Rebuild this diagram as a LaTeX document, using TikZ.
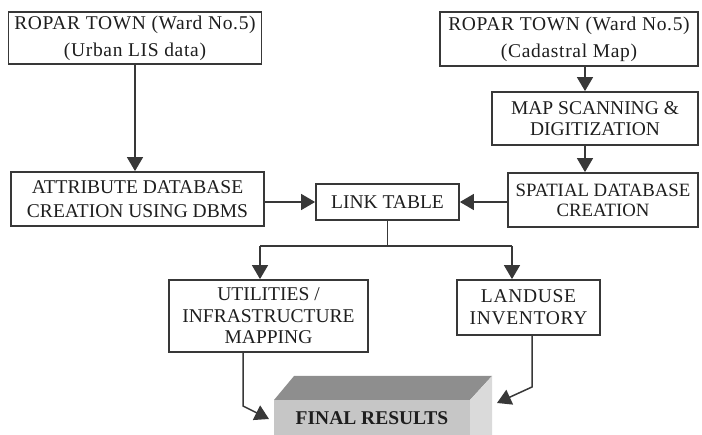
\documentclass[tikz,border=0pt]{standalone}
\usepackage{fontspec}
\setmainfont{Liberation Serif}
\usetikzlibrary{arrows.meta}
\definecolor{edge}{HTML}{383838}
\definecolor{ink}{HTML}{1E1E1E}
\definecolor{topface}{HTML}{8E8E8E}
\definecolor{frontface}{HTML}{C6C6C6}
\definecolor{sideface}{HTML}{DADADA}
\tikzset{
  box/.style={draw=edge, line width=1.8pt, rectangle, inner sep=0pt, align=center,
              text=ink, fill=white},
  lsp/.style={font=\fontsize{19.5}{#1}\selectfont},
  spaced/.style={font=\fontsize{19.5}{#1}\selectfont\addfontfeature{LetterSpace=3.5}},
  conn/.style={draw=edge, line width=1.5pt},
  arr/.style={conn, -{Triangle[length=14pt,width=16pt]}},
}
\begin{document}
\begin{tikzpicture}[x=1pt,y=-1pt]
\useasboundingbox (0,0) rectangle (702,435);

% process boxes
\node[box, spaced=27, minimum width=253pt, minimum height=52pt] (b1) at (135,38)
  {ROPAR TOWN (Ward No.5)\\(Urban LIS data)};
\node[box, spaced=27, minimum width=258pt, minimum height=54pt] (b2) at (569,39)
  {ROPAR TOWN (Ward No.5)\\(Cadastral Map)};
\node[box, lsp=21, minimum width=206pt, minimum height=53pt] (b3) at (595,118.5)
  {MAP SCANNING \&\\DIGITIZATION};
\node[box, lsp=24, minimum width=253pt, minimum height=54pt] (b4) at (137.5,199)
  {ATTRIBUTE DATABASE\\CREATION USING DBMS};
\node[box, lsp=21, minimum width=143pt, minimum height=36pt] (b5) at (387.5,202)
  {LINK TABLE};
\node[box, font=\fontsize{18.8}{20}\selectfont, minimum width=190pt, minimum height=54pt]
  (b6) at (603,200)
  {SPATIAL DATABASE\\CREATION};
\node[box, lsp=21.5, minimum width=199pt, minimum height=72pt] (b7) at (268.5,316)
  {UTILITIES /\\INFRASTRUCTURE\\MAPPING};
\node[box, spaced=22, minimum width=143pt, minimum height=55pt] (b8) at (528.5,307.5)
  {LANDUSE\\INVENTORY};

% raised result slab
\fill[topface] (274,400) -- (294,376) -- (492,376) -- (470,400) -- cycle;
\fill[sideface] (470,400) -- (492,376) -- (492,440) -- (470,440) -- cycle;
\node[fill=frontface, minimum width=196pt, minimum height=40pt, inner sep=0pt,
      text=ink, font=\fontsize{19.5}{22}\selectfont\bfseries] (fin) at (372,420)
  {\raisebox{3pt}{FINAL RESULTS}};

% guide coordinates
\coordinate (colx) at (585,0);
\coordinate (split) at (387.5,246);
\coordinate (dl) at (260,246);
\coordinate (dr) at (512,246);
\coordinate (bendL) at (243,406);
\coordinate (tipL) at (269,419);
\coordinate (bendR) at (532,387);
\coordinate (tipR) at (497,403);

% connectors
\draw[arr] (b1.south) -- (b1.south |- b4.north);
\draw[arr] (b2.south -| colx) -- (b3.north -| colx);
\draw[arr] (b3.south -| colx) -- (b6.north -| colx);
\draw[arr] (b4.east |- b5.west) -- (b5.west);
\draw[arr] (b6.west |- b5.east) -- (b5.east);
\draw[conn] (b5.south) -- (split);
\draw[conn] (dl) -- (dr);
\draw[arr] (dl) -- (dl |- b7.north);
\draw[arr] (dr) -- (dr |- b8.north);
\draw[arr] (b7.south -| bendL) -- (bendL) -- (tipL);
\draw[arr] (b8.south -| bendR) -- (bendR) -- (tipR);
\end{tikzpicture}
\end{document}
